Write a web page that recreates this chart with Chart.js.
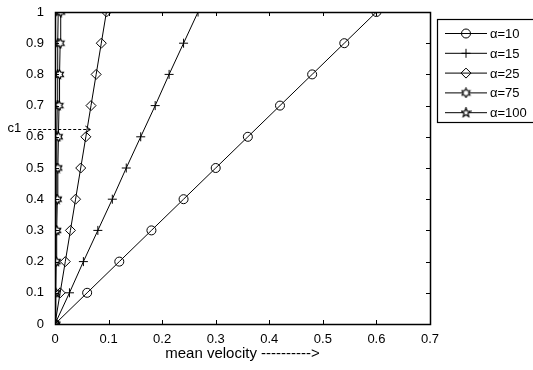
<!DOCTYPE html>
<html>
<head>
<meta charset="utf-8">
<script src="https://cdn.jsdelivr.net/npm/chart.js@4/dist/chart.umd.min.js"></script>
<style>
  html, body { margin: 0; padding: 0; background: #fff; }
  #wrap { width: 533px; height: 370px; position: relative; }
</style>
</head>
<body>
<div id="wrap"><canvas id="myChart" width="533" height="370"></canvas></div>
<script>
// y values shared by all series
var probs = [0, 0.1, 0.2, 0.3, 0.4, 0.5, 0.6, 0.7, 0.8, 0.9, 1];
var labels = ['\u03b1=10', '\u03b1=15', '\u03b1=25', '\u03b1=75', '\u03b1=100'];
var vel10 = [0, 0.06, 0.12, 0.18, 0.24, 0.30, 0.36, 0.42, 0.48, 0.54, 0.60];
var vel15 = [0, 0.027, 0.053, 0.08, 0.107, 0.133, 0.16, 0.187, 0.213, 0.24, 0.267];
var vel25 = [0, 0.0096, 0.0192, 0.0288, 0.0384, 0.048, 0.0576, 0.0672, 0.0768, 0.0864, 0.096];
var vel75 = [0, 0.0011, 0.0021, 0.0032, 0.0043, 0.0053, 0.0064, 0.0075, 0.0085, 0.0096, 0.0107];
var vel100 = [0, 0.0006, 0.0012, 0.0018, 0.0024, 0.003, 0.0036, 0.0042, 0.0048, 0.0054, 0.006];
var xTicks = [0, 0.1, 0.2, 0.3, 0.4, 0.5, 0.6, 0.7];
var yTicks = [0, 0.1, 0.2, 0.3, 0.4, 0.5, 0.6, 0.7, 0.8, 0.9, 1];
var c1Value = 0.625;

var FONT = 'Liberation Sans, Arial, sans-serif';

function starCanvas(n, r1, r2) {
    var c = document.createElement('canvas');
    c.width = 11; c.height = 11;
    var g = c.getContext('2d');
    g.strokeStyle = '#000';
    g.lineWidth = 1.2;
    g.beginPath();
    for (let i = 0; i < n * 2; i++) {
        let r = i % 2 === 0 ? r1 : r2;
        let a = -Math.PI / 2 + i * Math.PI / n;
        let px = 5.5 + r * Math.cos(a), py = 5.5 + r * Math.sin(a);
        if (i === 0) g.moveTo(px, py); else g.lineTo(px, py);
    }
    g.closePath();
    g.fillStyle = '#fff';
    g.fill();
    g.stroke();
    return c;
}
var hexStar = starCanvas(6, 4.5, 2.6);
var pentStar = starCanvas(5, 4.8, 2);

function pts(xs) {
    let out = [];
    for (let i = 0; i < xs.length; i++) out.push({ x: xs[i], y: probs[i] });
    return out;
}

var styles = [
    { style: 'circle', radius: 4.5 },
    { style: 'cross', radius: 4.5 },
    { style: 'rectRot', radius: 5 },
    { style: hexStar, radius: 5 },
    { style: pentStar, radius: 5 }
];
var series = [vel10, vel15, vel25, vel75, vel100];
var datasets = [];
for (let i = 0; i < series.length; i++) {
    datasets.push({
        label: labels[i],
        data: pts(series[i]),
        showLine: true,
        borderColor: '#000',
        backgroundColor: '#fff',
        borderWidth: 1,
        pointStyle: styles[i].style,
        pointRadius: styles[i].radius,
        pointBorderWidth: 1,
        pointBorderColor: '#000',
        pointBackgroundColor: 'rgba(255,255,255,0)'
    });
}

var boxPlugin = {
    id: 'boxPlugin',
    afterDatasetsDraw: function (chart) {
        var ctx = chart.ctx, a = chart.chartArea;
        var xs = chart.scales.x, ys = chart.scales.y;
        ctx.save();
        ctx.strokeStyle = '#000';
        ctx.lineWidth = 1;
        // ticks, inward on all four sides
        ctx.beginPath();
        xTicks.forEach(function (v) {
            var p = Math.round(xs.getPixelForValue(v)) + 0.5;
            ctx.moveTo(p, a.bottom); ctx.lineTo(p, a.bottom - 4);
            ctx.moveTo(p, a.top); ctx.lineTo(p, a.top + 4);
        });
        yTicks.forEach(function (v) {
            var p = Math.round(ys.getPixelForValue(v)) + 0.5;
            ctx.moveTo(a.left, p); ctx.lineTo(a.left + 4, p);
            ctx.moveTo(a.right, p); ctx.lineTo(a.right - 4, p);
        });
        ctx.stroke();
        ctx.lineWidth = 1.5;
        ctx.strokeRect(Math.round(a.left) + 0.5, Math.round(a.top) + 0.5,
            Math.round(a.right - a.left), Math.round(a.bottom - a.top));

        // c1 dashed arrow
        var yc = Math.round(ys.getPixelForValue(c1Value)) + 0.5;
        var x0 = xs.getPixelForValue(-0.05), x1 = xs.getPixelForValue(0.066);
        ctx.lineWidth = 1;
        ctx.setLineDash([3, 2]);
        ctx.beginPath();
        ctx.moveTo(x0, yc); ctx.lineTo(x1, yc);
        ctx.stroke();
        ctx.setLineDash([]);
        ctx.beginPath();
        ctx.moveTo(x1 - 5, yc - 3.5); ctx.lineTo(x1, yc); ctx.lineTo(x1 - 5, yc + 3.5);
        ctx.stroke();
        ctx.fillStyle = '#000';
        ctx.font = '13px ' + FONT;
        ctx.textAlign = 'right';
        ctx.textBaseline = 'middle';
        ctx.fillText('c1', x0 - 7, yc - 1);

        // legend
        var lx = 437.5, ly = 19.5, lw = 110, lh = 103;
        ctx.fillStyle = '#fff';
        ctx.fillRect(lx, ly, lw, lh);
        ctx.lineWidth = 1.2;
        ctx.strokeRect(lx, ly, lw, lh);
        ctx.lineWidth = 1;
        for (let i = 0; i < labels.length; i++) {
            var yy = 33.5 + i * 19.8;
            ctx.beginPath();
            ctx.moveTo(445, yy); ctx.lineTo(487, yy);
            ctx.stroke();
            var ds = chart.data.datasets[i];
            ctx.fillStyle = 'rgba(255,255,255,0)';
            Chart.helpers.drawPoint(ctx, {
                pointStyle: ds.pointStyle, radius: ds.pointRadius,
                borderWidth: 1, rotation: 0
            }, 466, yy);
            ctx.fillStyle = '#000';
            ctx.font = '13px ' + FONT;
            ctx.textAlign = 'left';
            ctx.fillText(labels[i], 490, yy + 1);
        }
        ctx.restore();
    }
};

var ctx = document.getElementById('myChart');
var myChart = new Chart(ctx, {
    type: 'scatter',
    data: { datasets: datasets },
    options: {
        responsive: false,
        animation: false,
        layout: { padding: { top: 12, right: 103, left: 0, bottom: 0 } },
        plugins: {
            legend: { display: false },
            tooltip: { enabled: false }
        },
        scales: {
            x: {
                type: 'linear',
                min: 0, max: 0.7,
                grid: { display: false },
                border: { display: false },
                afterBuildTicks: function (s) { s.ticks = xTicks.map(function (v) { return { value: v }; }); },
                afterFit: function (s) { s.height = 46; },
                ticks: {
                    color: '#000', padding: 0,
                    font: { family: FONT, size: 13 },
                    callback: function (v) { return String(+v.toFixed(2)); }
                },
                title: {
                    display: true, text: 'mean velocity ---------->',
                    color: '#000', padding: { top: 0, bottom: 7 },
                    font: { family: FONT, size: 15 }
                }
            },
            y: {
                type: 'linear',
                min: 0, max: 1,
                grid: { display: false },
                border: { display: false },
                afterBuildTicks: function (s) { s.ticks = yTicks.map(function (v) { return { value: v }; }); },
                afterFit: function (s) { s.width = 55; },
                ticks: {
                    color: '#000', padding: 3,
                    font: { family: FONT, size: 13 },
                    callback: function (v) { return String(+v.toFixed(2)); }
                }
            }
        }
    },
    plugins: [boxPlugin]
});
</script>
</body>
</html>
